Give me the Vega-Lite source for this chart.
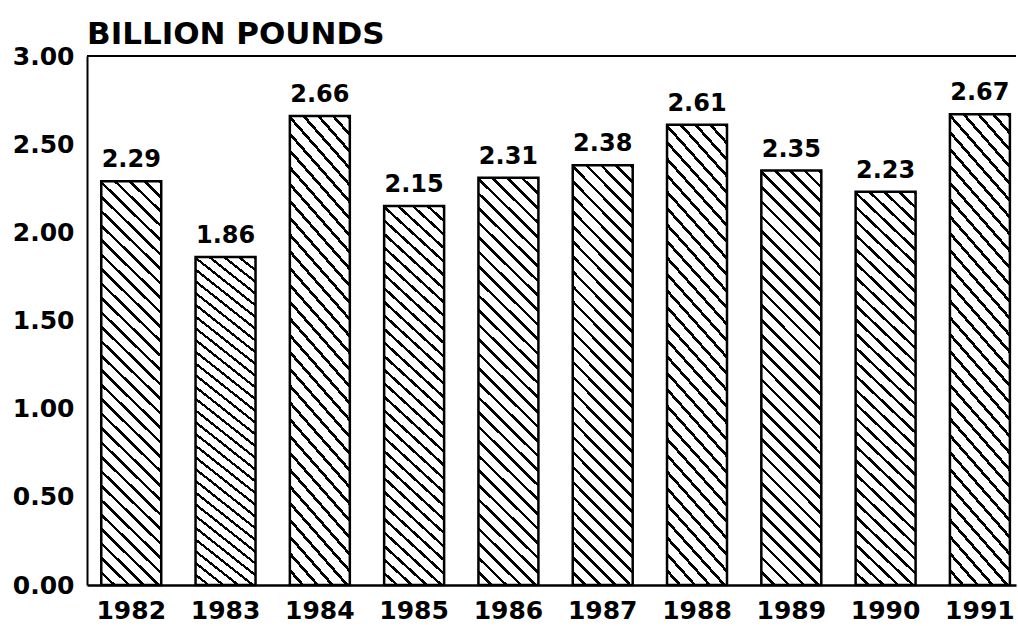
{
  "$schema": "https://vega.github.io/schema/vega-lite/v6.json",
  "width": 929,
  "height": 529,
  "autosize": "none",
  "padding": {"left": 87, "top": 56, "right": 2, "bottom": 41},
  "background": "white",
  "config": {"view": {"stroke": null}, "font": "DejaVu Sans"},
  "title": {
    "text": "BILLION POUNDS",
    "anchor": "start",
    "frame": "group",
    "offset": -7,
    "font": "DejaVu Sans",
    "fontSize": 31,
    "fontWeight": "bold",
    "color": "black"
  },
  "data": {
    "values": [
      {"year": "1982", "value": 2.29},
      {"year": "1983", "value": 1.86},
      {"year": "1984", "value": 2.66},
      {"year": "1985", "value": 2.15},
      {"year": "1986", "value": 2.31},
      {"year": "1987", "value": 2.38},
      {"year": "1988", "value": 2.61},
      {"year": "1989", "value": 2.35},
      {"year": "1990", "value": 2.23},
      {"year": "1991", "value": 2.67}
    ]
  },
  "layer": [
    {
      "mark": {"type": "rule", "color": "black", "strokeWidth": 2},
      "encoding": {
        "y": {"datum": 3, "type": "quantitative", "scale": {"domain": [0, 3], "nice": false}}
      }
    },
    {
      "mark": {
        "type": "bar",
        "stroke": "black",
        "strokeWidth": 2.5,
        "fill": {
          "gradient": "linear",
          "x1": 0, "y1": 1, "x2": 0.1625, "y2": -0.1214,
          "stops": [
            {"offset": 0, "color": "white"}, {"offset": 0.0234375, "color": "white"}, {"offset": 0.0234375, "color": "black"}, {"offset": 0.03125, "color": "black"},
            {"offset": 0.03125, "color": "white"}, {"offset": 0.0546875, "color": "white"}, {"offset": 0.0546875, "color": "black"}, {"offset": 0.0625, "color": "black"},
            {"offset": 0.0625, "color": "white"}, {"offset": 0.0859375, "color": "white"}, {"offset": 0.0859375, "color": "black"}, {"offset": 0.09375, "color": "black"},
            {"offset": 0.09375, "color": "white"}, {"offset": 0.1171875, "color": "white"}, {"offset": 0.1171875, "color": "black"}, {"offset": 0.125, "color": "black"},
            {"offset": 0.125, "color": "white"}, {"offset": 0.1484375, "color": "white"}, {"offset": 0.1484375, "color": "black"}, {"offset": 0.15625, "color": "black"},
            {"offset": 0.15625, "color": "white"}, {"offset": 0.1796875, "color": "white"}, {"offset": 0.1796875, "color": "black"}, {"offset": 0.1875, "color": "black"},
            {"offset": 0.1875, "color": "white"}, {"offset": 0.2109375, "color": "white"}, {"offset": 0.2109375, "color": "black"}, {"offset": 0.21875, "color": "black"},
            {"offset": 0.21875, "color": "white"}, {"offset": 0.2421875, "color": "white"}, {"offset": 0.2421875, "color": "black"}, {"offset": 0.25, "color": "black"},
            {"offset": 0.25, "color": "white"}, {"offset": 0.2734375, "color": "white"}, {"offset": 0.2734375, "color": "black"}, {"offset": 0.28125, "color": "black"},
            {"offset": 0.28125, "color": "white"}, {"offset": 0.3046875, "color": "white"}, {"offset": 0.3046875, "color": "black"}, {"offset": 0.3125, "color": "black"},
            {"offset": 0.3125, "color": "white"}, {"offset": 0.3359375, "color": "white"}, {"offset": 0.3359375, "color": "black"}, {"offset": 0.34375, "color": "black"},
            {"offset": 0.34375, "color": "white"}, {"offset": 0.3671875, "color": "white"}, {"offset": 0.3671875, "color": "black"}, {"offset": 0.375, "color": "black"},
            {"offset": 0.375, "color": "white"}, {"offset": 0.3984375, "color": "white"}, {"offset": 0.3984375, "color": "black"}, {"offset": 0.40625, "color": "black"},
            {"offset": 0.40625, "color": "white"}, {"offset": 0.4296875, "color": "white"}, {"offset": 0.4296875, "color": "black"}, {"offset": 0.4375, "color": "black"},
            {"offset": 0.4375, "color": "white"}, {"offset": 0.4609375, "color": "white"}, {"offset": 0.4609375, "color": "black"}, {"offset": 0.46875, "color": "black"},
            {"offset": 0.46875, "color": "white"}, {"offset": 0.4921875, "color": "white"}, {"offset": 0.4921875, "color": "black"}, {"offset": 0.5, "color": "black"},
            {"offset": 0.5, "color": "white"}, {"offset": 0.5234375, "color": "white"}, {"offset": 0.5234375, "color": "black"}, {"offset": 0.53125, "color": "black"},
            {"offset": 0.53125, "color": "white"}, {"offset": 0.5546875, "color": "white"}, {"offset": 0.5546875, "color": "black"}, {"offset": 0.5625, "color": "black"},
            {"offset": 0.5625, "color": "white"}, {"offset": 0.5859375, "color": "white"}, {"offset": 0.5859375, "color": "black"}, {"offset": 0.59375, "color": "black"},
            {"offset": 0.59375, "color": "white"}, {"offset": 0.6171875, "color": "white"}, {"offset": 0.6171875, "color": "black"}, {"offset": 0.625, "color": "black"},
            {"offset": 0.625, "color": "white"}, {"offset": 0.6484375, "color": "white"}, {"offset": 0.6484375, "color": "black"}, {"offset": 0.65625, "color": "black"},
            {"offset": 0.65625, "color": "white"}, {"offset": 0.6796875, "color": "white"}, {"offset": 0.6796875, "color": "black"}, {"offset": 0.6875, "color": "black"},
            {"offset": 0.6875, "color": "white"}, {"offset": 0.7109375, "color": "white"}, {"offset": 0.7109375, "color": "black"}, {"offset": 0.71875, "color": "black"},
            {"offset": 0.71875, "color": "white"}, {"offset": 0.7421875, "color": "white"}, {"offset": 0.7421875, "color": "black"}, {"offset": 0.75, "color": "black"},
            {"offset": 0.75, "color": "white"}, {"offset": 0.7734375, "color": "white"}, {"offset": 0.7734375, "color": "black"}, {"offset": 0.78125, "color": "black"},
            {"offset": 0.78125, "color": "white"}, {"offset": 0.8046875, "color": "white"}, {"offset": 0.8046875, "color": "black"}, {"offset": 0.8125, "color": "black"},
            {"offset": 0.8125, "color": "white"}, {"offset": 0.8359375, "color": "white"}, {"offset": 0.8359375, "color": "black"}, {"offset": 0.84375, "color": "black"},
            {"offset": 0.84375, "color": "white"}, {"offset": 0.8671875, "color": "white"}, {"offset": 0.8671875, "color": "black"}, {"offset": 0.875, "color": "black"},
            {"offset": 0.875, "color": "white"}, {"offset": 0.8984375, "color": "white"}, {"offset": 0.8984375, "color": "black"}, {"offset": 0.90625, "color": "black"},
            {"offset": 0.90625, "color": "white"}, {"offset": 0.9296875, "color": "white"}, {"offset": 0.9296875, "color": "black"}, {"offset": 0.9375, "color": "black"},
            {"offset": 0.9375, "color": "white"}, {"offset": 0.9609375, "color": "white"}, {"offset": 0.9609375, "color": "black"}, {"offset": 0.96875, "color": "black"},
            {"offset": 0.96875, "color": "white"}, {"offset": 0.9921875, "color": "white"}, {"offset": 0.9921875, "color": "black"}, {"offset": 1, "color": "black"}
          ]
        }
      },
      "encoding": {
        "x": {
          "field": "year",
          "type": "ordinal",
          "scale": {"paddingInner": 0.364, "paddingOuter": 0.108, "align": 0.7},
          "axis": {
            "title": null,
            "labelAngle": 0,
            "ticks": false,
            "domain": true,
            "domainColor": "black",
            "domainWidth": 2.5,
            "labelFont": "DejaVu Sans",
            "labelFontWeight": "bold",
            "labelFontSize": 25,
            "labelColor": "black",
            "labelPadding": 13
          }
        },
        "y": {
          "field": "value",
          "type": "quantitative",
          "scale": {"domain": [0, 3], "nice": false},
          "axis": {
            "title": null,
            "values": [0, 0.5, 1, 1.5, 2, 2.5, 3],
            "format": ".2f",
            "grid": false,
            "ticks": false,
            "domain": true,
            "domainColor": "black",
            "domainWidth": 2,
            "labelFont": "DejaVu Sans",
            "labelFontWeight": "bold",
            "labelFontSize": 25,
            "labelColor": "black",
            "labelPadding": 13
          }
        }
      }
    },
    {
      "mark": {
        "type": "text",
        "baseline": "bottom",
        "dy": -9,
        "font": "DejaVu Sans",
        "fontWeight": "bold",
        "fontSize": 24,
        "color": "black"
      },
      "encoding": {
        "x": {"field": "year", "type": "ordinal"},
        "y": {"field": "value", "type": "quantitative"},
        "text": {"field": "value", "type": "quantitative", "format": ".2f"}
      }
    }
  ]
}
